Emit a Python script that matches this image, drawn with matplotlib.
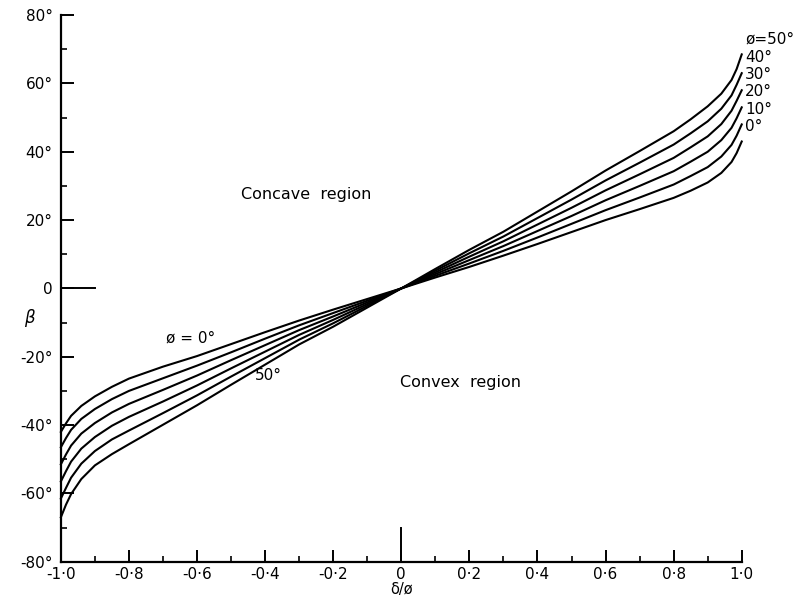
import matplotlib
matplotlib.use("Agg")
import matplotlib.pyplot as plt
from matplotlib.ticker import FixedLocator, FixedFormatter, MultipleLocator

delta_phi = [-1.0, -0.985, -0.97, -0.94, -0.9, -0.85, -0.8, -0.7, -0.6, -0.5, -0.4,
             -0.3, -0.2, -0.1, 0.0, 0.1, 0.2, 0.3, 0.4, 0.5, 0.6, 0.7, 0.8, 0.85,
             0.9, 0.94, 0.97, 0.985, 1.0]

# beta (degrees) for each phi
beta_phi0 = [-42.0, -39.5, -37.3, -34.4, -31.6, -28.8, -26.4, -22.9, -19.8, -16.3, -12.8,
             -9.4, -6.2, -3.1, 0.0, 3.2, 6.3, 9.6, 13.0, 16.5, 20.0, 23.2, 26.5, 28.6,
             31.0, 33.8, 37.0, 39.6, 43.0]
beta_phi10 = [-46.5, -43.8, -41.4, -38.2, -35.3, -32.4, -30.0, -26.3, -22.6, -18.7, -14.7,
              -10.8, -7.2, -3.6, 0.0, 3.7, 7.3, 11.0, 14.9, 18.9, 22.9, 26.6, 30.4, 32.9,
              35.5, 38.6, 42.0, 44.7, 48.0]
beta_phi20 = [-51.5, -48.6, -46.0, -42.5, -39.4, -36.3, -33.8, -29.7, -25.5, -21.0, -16.6,
              -12.2, -8.2, -4.1, 0.0, 4.2, 8.3, 12.4, 16.8, 21.2, 25.8, 30.0, 34.3, 37.1,
              40.0, 43.4, 47.0, 49.8, 53.0]
beta_phi30 = [-56.5, -53.5, -50.7, -46.9, -43.5, -40.2, -37.6, -33.1, -28.4, -23.4, -18.5,
              -13.6, -9.2, -4.6, 0.0, 4.7, 9.3, 13.8, 18.7, 23.6, 28.7, 33.4, 38.2, 41.3,
              44.5, 48.1, 52.0, 54.9, 58.0]
beta_phi40 = [-61.5, -58.4, -55.4, -51.3, -47.6, -44.2, -41.6, -36.5, -31.3, -25.8, -20.4,
              -15.0, -10.2, -5.1, 0.0, 5.2, 10.3, 15.2, 20.6, 26.0, 31.6, 36.8, 42.1, 45.4,
              48.9, 52.6, 56.5, 59.6, 63.0]
beta_phi50 = [-67.0, -63.3, -60.2, -55.8, -51.8, -48.5, -45.6, -39.9, -34.2, -28.2, -22.3,
              -16.4, -11.2, -5.6, 0.0, 5.7, 11.3, 16.6, 22.5, 28.4, 34.5, 40.2, 46.0, 49.5,
              53.3, 57.0, 61.0, 64.2, 68.5]

curves = [beta_phi0, beta_phi10, beta_phi20, beta_phi30, beta_phi40, beta_phi50]
end_labels = ["0°", "10°", "20°", "30°", "40°", "ø=50°"]

y_ticks = [-80, -60, -40, -20, 0, 20, 40, 60, 80]
y_labels = ["-80°", "-60°", "-40°", "-20°", "0", "20°", "40°", "60°", "80°"]
x_ticks = [-1.0, -0.8, -0.6, -0.4, -0.2, 0.0, 0.2, 0.4, 0.6, 0.8, 1.0]
x_labels = ["-1·0", "-0·8", "-0·6", "-0·4", "-0·2", "0", "0·2", "0·4", "0·6", "0·8", "1·0"]


def draw_chart():
    fig = plt.figure(figsize=(8.01, 6.04), dpi=100)
    ax = fig.add_axes([0.076, 0.07, 0.850, 0.905])

    for beta in curves:
        ax.plot(delta_phi, beta, color="black", lw=1.5, solid_joinstyle="round",
                clip_on=False)

    # labels at the right-hand ends of the curves
    for beta, lab in zip(curves, end_labels):
        ax.text(1.01, beta[-1] + 4.5, lab, fontsize=11, ha="left", va="center")

    ax.text(-0.69, -14.5, "ø = 0°", fontsize=11, ha="left", va="center")
    ax.text(-0.43, -25.5, "50°", fontsize=11, ha="left", va="center")
    ax.text(-0.47, 27.5, "Concave  region", fontsize=11.5, ha="left", va="center")
    ax.text(-0.005, -27.5, "Convex  region", fontsize=11.5, ha="left", va="center")

    ax.set_xlim(-1.0, 1.0)
    ax.set_ylim(-80, 80)
    for side in ["top", "right"]:
        ax.spines[side].set_visible(False)
    for side in ["left", "bottom"]:
        ax.spines[side].set_linewidth(1.6)

    ax.yaxis.set_major_locator(FixedLocator(y_ticks))
    ax.yaxis.set_major_formatter(FixedFormatter(y_labels))
    ax.yaxis.set_minor_locator(MultipleLocator(10))
    ax.xaxis.set_major_locator(FixedLocator(x_ticks))
    ax.xaxis.set_major_formatter(FixedFormatter(x_labels))
    ax.xaxis.set_minor_locator(MultipleLocator(0.1))

    ax.tick_params(which="major", direction="in", length=9, width=1.4, labelsize=11)
    ax.tick_params(which="minor", direction="in", length=4, width=1.2)
    ax.tick_params(axis="y", pad=6)
    ax.tick_params(axis="x", pad=4)

    # longer marks on the zero lines
    ax.axhline(0, xmin=0, xmax=0.05, color="black", lw=1.4)
    ax.axvline(0, ymin=0, ymax=0.062, color="black", lw=1.4)

    ax.set_xlabel("δ/ø", fontsize=10.5, labelpad=0)
    ax.set_ylabel("β", fontsize=12, rotation=0, style="italic")
    ax.yaxis.set_label_coords(-0.046, 0.43)

    fig.savefig("out.png", dpi=100, facecolor="white")


if __name__ == "__main__":
    draw_chart()
